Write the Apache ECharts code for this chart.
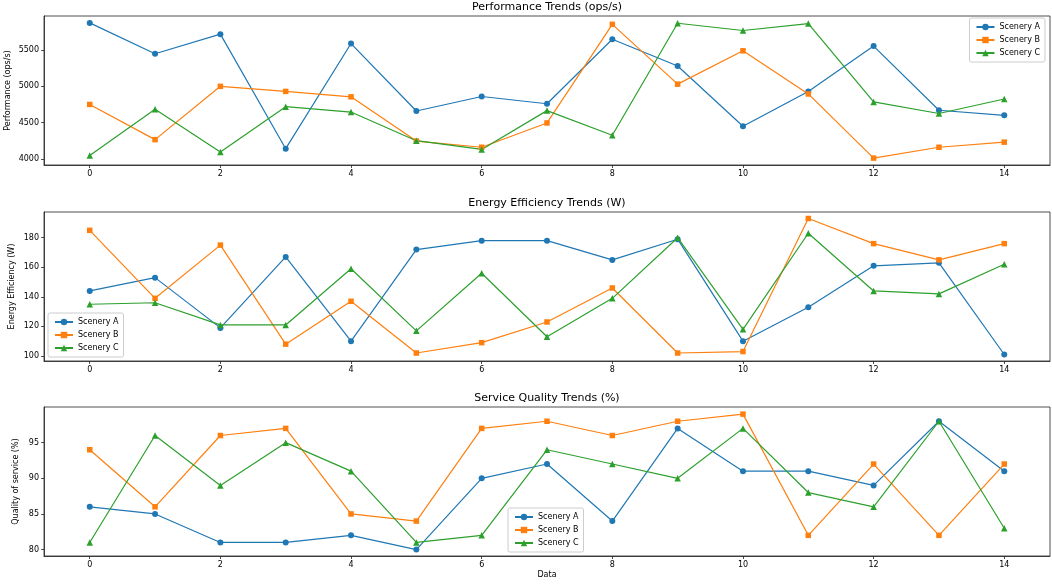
<!DOCTYPE html>
<html>
<head>
<meta charset="utf-8">
<script src="https://cdn.jsdelivr.net/npm/echarts@6/dist/echarts.min.js"></script>
<style>
  html, body { margin: 0; padding: 0; background: #fff; }
  #chart { width: 1052px; height: 584px; }
</style>
</head>
<body>
<div id="chart"></div>
<script>
// ========= data =========
const xIndex = [0, 1, 2, 3, 4, 5, 6, 7, 8, 9, 10, 11, 12, 13, 14];
const xTicks = [0, 2, 4, 6, 8, 10, 12, 14];
const seriesNames = ["Scenery A", "Scenery B", "Scenery C"];

// Performance (ops/s)
const perfA = [5875, 5450, 5720, 4140, 5590, 4660, 4860, 4760, 5650, 5280, 4450, 4930, 5555, 4670, 4600];
const perfB = [4750, 4265, 5000, 4930, 4855, 4245, 4160, 4495, 5855, 5030, 5490, 4895, 4010, 4160, 4230];
const perfC = [4045, 4685, 4095, 4720, 4645, 4250, 4130, 4665, 4325, 5870, 5770, 5865, 4785, 4625, 4825];
const perfTicks = [4000, 4500, 5000, 5500];

// Energy efficiency (W)
const energyA = [144, 153, 119, 167, 110, 172, 178, 178, 165, 179, 110, 133, 161, 163, 101];
const energyB = [185, 139, 175, 108, 137, 102, 109, 123, 146, 102, 103, 193, 176, 165, 176];
const energyC = [135, 136, 121, 121, 159, 117, 156, 113, 139, 180, 118, 183, 144, 142, 162];
const energyTicks = [100, 120, 140, 160, 180];

// Service quality (%)
const qualityA = [86, 85, 81, 81, 82, 80, 90, 92, 84, 97, 91, 91, 89, 98, 91];
const qualityB = [94, 86, 96, 97, 85, 84, 97, 98, 96, 98, 99, 82, 92, 82, 92];
const qualityC = [81, 96, 89, 95, 91, 81, 82, 94, 92, 90, 97, 88, 86, 98, 83];
const qualityTicks = [80, 85, 90, 95];

// ========= style =========
const FONT = "DejaVu Sans";
const colors = ["#1f77b4", "#ff7f0e", "#2ca02c"];
const symbols = ["circle", "rect", "triangle"];
const symbolSizes = [6, 5.5, 6.5];

const panels = [
    { title: "Performance Trends (ops/s)", yName: "Performance (ops/s)", data: [perfA, perfB, perfC],
      ticks: perfTicks, min: 3915, max: 5970, top: 16, nameGap: 32, legend: { right: 7, top: 18 } },
    { title: "Energy Efficiency Trends (W)", yName: "Energy Efficiency (W)", data: [energyA, energyB, energyC],
      ticks: energyTicks, min: 96.6, max: 197.4, top: 212, nameGap: 28, legend: { left: 48, top: 313 } },
    { title: "Service Quality Trends (%)", yName: "Quality of service (%)", data: [qualityA, qualityB, qualityC],
      ticks: qualityTicks, min: 79.1, max: 100, top: 407, nameGap: 24, legend: { left: 508, top: 508 } }
];
const plotHeight = 149;

const titles = [], grids = [], xAxes = [], yAxes = [], legends = [], series = [];

panels.forEach((p, k) => {
    titles.push({
        text: p.title,
        left: 547, top: p.top - 14, textAlign: "center", padding: 0,
        textStyle: { fontFamily: FONT, fontSize: 11, fontWeight: "normal", color: "#000" }
    });
    grids.push({
        left: 44, right: 2, top: p.top, height: plotHeight,
        outerBoundsMode: "none", containLabel: false,
        show: true, borderColor: "#222", borderWidth: 0.8, backgroundColor: "transparent"
    });
    xAxes.push({
        type: "value", gridIndex: k, min: -0.7, max: 14.7,
        name: k === 2 ? "Data" : "", nameLocation: "middle", nameGap: 15, nameMoveOverlap: false,
        nameTextStyle: { fontFamily: FONT, fontSize: 8, color: "#000" },
        axisLine: { show: true, onZero: false, lineStyle: { color: "#222", width: 0.8 } },
        axisTick: { show: true, length: 3, inside: false, customValues: xTicks, lineStyle: { color: "#222", width: 0.8 } },
        axisLabel: { customValues: xTicks, fontFamily: FONT, fontSize: 8, color: "#000", margin: 5,
                     formatter: v => String(v) },
        splitLine: { show: false }
    });
    yAxes.push({
        type: "value", gridIndex: k, min: p.min, max: p.max,
        name: p.yName, nameLocation: "middle", nameGap: p.nameGap, nameMoveOverlap: false,
        nameTextStyle: { fontFamily: FONT, fontSize: 8, color: "#000" },
        axisLine: { show: true, onZero: false, lineStyle: { color: "#222", width: 0.8 } },
        axisTick: { show: true, length: 3, customValues: p.ticks, lineStyle: { color: "#222", width: 0.8 } },
        axisLabel: { customValues: p.ticks, fontFamily: FONT, fontSize: 8, color: "#000", margin: 5,
                     formatter: v => String(v) },
        splitLine: { show: false }
    });
    legends.push(Object.assign({
        orient: "vertical",
        data: seriesNames,
        itemWidth: 18, itemHeight: 8, itemGap: 5,
        padding: [5, 5, 5, 6],
        borderColor: "#ccc", borderWidth: 1, borderRadius: 2,
        backgroundColor: "rgba(255,255,255,0.8)",
        selectedMode: false,
        textStyle: { fontFamily: FONT, fontSize: 8, color: "#000" }
    }, p.legend));
    p.data.forEach((vals, s) => {
        series.push({
            name: seriesNames[s],
            type: "line",
            xAxisIndex: k, yAxisIndex: k,
            data: xIndex.map((x, i) => [x, vals[i]]),
            symbol: symbols[s], symbolSize: symbolSizes[s],
            showAllSymbol: true,
            lineStyle: { color: colors[s], width: 1.2 },
            itemStyle: { color: colors[s] },
            animation: false
        });
    });
});

const chart = echarts.init(document.getElementById("chart"));
chart.setOption({
    animation: false,
    title: titles,
    grid: grids,
    xAxis: xAxes,
    yAxis: yAxes,
    legend: legends,
    series: series
});
</script>
</body>
</html>
